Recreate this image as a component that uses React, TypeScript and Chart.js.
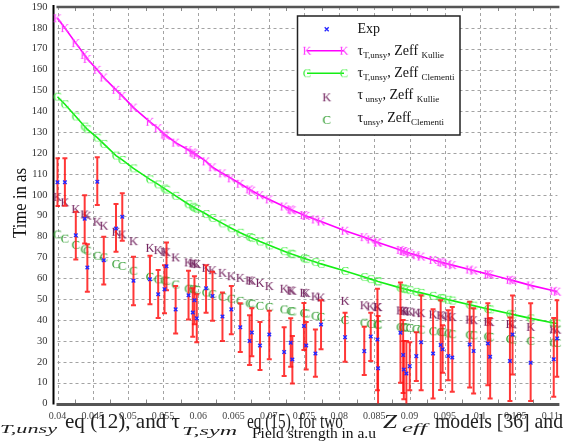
import React, { useEffect, useRef } from "react";
import { Chart, registerables } from "chart.js";
Chart.register(...registerables);

const FONT = '"Liberation Serif", "Times New Roman", serif';

// Field strength (a.u.) of each measurement
const fieldStrength = [
  0.0400, 0.04105, 0.0426, 0.04386, 0.04424, 0.04565, 0.04657, 0.04831, 0.0492, 0.05079,
  0.05313, 0.0543, 0.0552, 0.05548, 0.05678, 0.05861, 0.05921, 0.05945, 0.05978, 0.0611,
  0.06202, 0.06343, 0.06469, 0.06596, 0.06728, 0.0676, 0.06876, 0.07008, 0.07219, 0.07312,
  0.07336, 0.075, 0.07532, 0.07663, 0.07743, 0.08084, 0.08357, 0.08449, 0.08544, 0.08553,
  0.08871, 0.08909, 0.08919, 0.08955, 0.09003, 0.09096, 0.09165, 0.09334, 0.09442, 0.0947,
  0.0955, 0.09607, 0.09854, 0.0991, 0.10112, 0.10145, 0.10426, 0.10463, 0.1072, 0.11048,
  0.11096,
];

// Experimental time (as) with error range
const expTime = [
  106, 106, 80.6, 88.5, 65.2, 106.3, 68.6, 83.9, 89.5, 58.8,
  59.5, 52.4, 54.8, 65.8, 45.1, 51.9, 43.6, 49.5, 40.8, 55.2,
  51.5, 41.7, 45.1, 36.5, 30, 34, 27.8, 33.1, 24.7, 29.1,
  21.1, 37.1, 27.8, 24, 37.9, 31.8, 25.1, 32.1, 30.7, 16.9,
  33.9, 23.2, 16.3, 14.4, 17.9, 22.7, 29.4, 24, 28, 26,
  22.8, 22, 28.3, 25.2, 28.8, 22.4, 20.4, 33.1, 19.5, 21.2,
  31.2,
];
const expLow = [
  94.6, 94.8, 69, 76.7, 53.5, 95.1, 57, 72.7, 78, 47.1,
  47.6, 41, 43.2, 54.3, 33.6, 40.3, 32, 38, 29.3, 43.5,
  39.6, 30, 33.2, 24.7, 18.4, 22.7, 16, 21.2, 13.2, 17.6,
  9.6, 25.6, 16.3, 12.8, 26, 20, 13.6, 20.4, 6.4, -4,
  9.9, 5, 2, -1, 6.4, 10.8, 6.4, 2.4, 6.5, 14.7,
  11.2, 5.6, 7.7, 4.8, 8.8, 2.4, 1.2, 13.9, 1.2, 3.2,
  12.8,
];
const expHigh = [
  117.5, 117.5, 91.9, 99.8, 76.3, 118, 79.9, 95.6, 100.7, 70.3,
  70.8, 64, 66.3, 77.2, 56.3, 63.6, 55.2, 61, 52.3, 66.3,
  63.1, 53.2, 56.3, 48, 42.3, 45.6, 39.1, 44.4, 36.5, 40.8,
  32.4, 48.2, 39.1, 35.5, 49.5, 43.5, 36.8, 43.5, 55, 41.9,
  58, 40, 30, 30, 29.3, 34.2, 51.9, 45.2, 49.5, 37.5,
  44.7, 46.3, 48.7, 45.6, 48, 41, 41.2, 51.8, 48, 41,
  49.5,
];

// tau_T,unsy with Zeff Kullie (magenta line)
const tauTKullie = [
  184.6, 179.9, 172.7, 167, 165.1, 159.9, 156.2, 150.3, 147.4, 141.8,
  135, 131.9, 128.9, 128.3, 125, 121.5, 120.3, 119.8, 119.1, 116,
  113.2, 110.3, 107.9, 105.3, 102.6, 102, 99.8, 97.8, 94.4, 93,
  92.6, 90.3, 89.9, 88.2, 87.2, 82.8, 79.7, 78.6, 77.2, 77.1,
  73.6, 73.1, 73, 72.6, 72, 71.1, 70.4, 68.8, 67.8, 67.5,
  66.8, 66.3, 64.2, 63.7, 62, 61.8, 59.3, 59, 56.6, 54,
  53.6,
];
// tau_T,unsy with Zeff Clementi (green line)
const tauTClementi = [
  147, 143.4, 137.5, 132.7, 131.4, 127.4, 124.4, 118.8, 116.7, 112.7,
  107.4, 105, 103, 102.4, 99.5, 95.5, 94.3, 93.8, 93.2, 90.8,
  88.9, 86.3, 84, 81.8, 79.8, 79.3, 77.6, 75.8, 73, 71.8,
  71.5, 69.6, 69.2, 67.8, 66.9, 63.5, 60.6, 59.6, 58.6, 58.5,
  55.4, 55.1, 55, 54.7, 54.3, 53.5, 53, 51.6, 50.6, 50.4,
  49.7, 49.3, 47.3, 46.9, 45.3, 45.1, 43, 42.7, 40.8, 38.6,
  38.3,
];
// tau_unsy with Zeff Kullie (purple K)
const tauKullie = [
  99, 96.4, 93.2, 90.6, 90, 87.1, 85.2, 82.3, 81, 77.8,
  74.6, 73.5, 72.8, 72.5, 70, 67.6, 67.2, 67, 66.8, 65,
  63.9, 62.6, 61, 60.2, 59, 58.8, 57.8, 56.3, 55, 54.2,
  54, 53.1, 52.9, 51.3, 50.8, 49.2, 47.1, 46.5, 46.2, 46.2,
  44.6, 44.4, 44.4, 44.2, 44, 43.6, 43.3, 42.7, 42.3, 42.1,
  41.7, 41.4, 40.2, 39.9, 39.2, 39, 38.1, 37.9, 36.7, 35.6,
  35.4,
];
// tau_unsy with Zeff Clementi (green C)
const tauClementi = [
  81, 79, 76, 73.9, 73.2, 70.8, 70, 66.8, 65.9, 63.6,
  60.7, 59.5, 59, 58.7, 57, 55, 54.8, 54.6, 54.4, 53.2,
  52.4, 51.1, 50.2, 49.2, 48, 47.8, 46.8, 46.3, 45.1, 44.3,
  44.1, 43.3, 43.1, 42, 41.5, 40, 38.7, 38.1, 37.8, 37.8,
  36.6, 36.5, 36.5, 36.4, 36.2, 35.7, 35.4, 34.6, 34.3, 34.2,
  33.6, 33.2, 32.9, 32.7, 32.1, 31.9, 30.9, 30.6, 30, 29.2,
  29,
];

const xTickValues = [0.04, 0.045, 0.05, 0.055, 0.06, 0.065, 0.07, 0.075, 0.08, 0.085, 0.09, 0.095, 0.1, 0.105, 0.11];
const xTickLabels = ["0.04", "0.045", "0.05", "0.055", "0.06", "0.065", "0.07", "0.075", "0.08", "0.085", "0.09", "0.095", "0.1", "0.105", "0.11"];
const X_MIN = 0.04;
const X_MAX = 0.111;
const Y_MIN = 0;
const Y_MAX = 190;
const Y_STEP = 10;

const COL_EXP = "#2626ff";
const COL_BAR = "rgba(255,20,20,0.85)";
const COL_PINK = "#ff00ff";
const COL_PINK_MK = "#ff40ff";
const COL_GREEN = "#14ee14";
const COL_GREEN_MK = "#44ee44";
const COL_PURPLE = "#73245f";
const COL_DKGREEN = "#2a9a2a";

const MK = 18;
function makeLetter(ch: string, color: string, size: number): HTMLCanvasElement {
  const c = document.createElement("canvas");
  c.width = MK;
  c.height = MK;
  const g = c.getContext("2d")!;
  g.font = `${size}px ${FONT}`;
  g.fillStyle = color;
  g.textAlign = "center";
  g.textBaseline = "alphabetic";
  g.fillText(ch, MK / 2, MK / 2 + size * 0.33);
  return c;
}

function fitText(ctx: CanvasRenderingContext2D, text: string, x0: number, x1: number, baseline: number, font: string, color: string) {
  ctx.save();
  ctx.font = font;
  ctx.fillStyle = color;
  ctx.textAlign = "left";
  ctx.textBaseline = "alphabetic";
  const w = ctx.measureText(text).width;
  ctx.translate(x0, baseline);
  ctx.scale((x1 - x0) / w, 1);
  ctx.fillText(text, 0, 0);
  ctx.restore();
}

function flowText(ctx: CanvasRenderingContext2D, parts: [string, boolean][], x: number, baseline: number) {
  let cx = x;
  for (const [t, sub] of parts) {
    ctx.font = sub ? `9px ${FONT}` : `14px ${FONT}`;
    ctx.fillText(t, cx, sub ? baseline + 3 : baseline);
    cx += ctx.measureText(t).width;
  }
}

export default function App() {
  const ref = useRef<HTMLCanvasElement>(null);

  useEffect(() => {
    const kPink = makeLetter("K", COL_PINK_MK, 12.5);
    const cGreen = makeLetter("C", COL_GREEN_MK, 12.5);
    const kPurple = makeLetter("K", COL_PURPLE, 12.5);
    const cDk = makeLetter("C", COL_DKGREEN, 12.5);

    const pts = (ys: number[]) => fieldStrength.map((x, i) => ({ x, y: ys[i] }));

    const decor = {
      id: "decor",
      beforeDatasetsDraw(chart: any) {
        const { ctx, chartArea: a, scales } = chart;
        const xs = scales.x;
        const ys = scales.y;
        ctx.save();
        ctx.strokeStyle = "#a3a3a3";
        ctx.lineWidth = 1;
        ctx.setLineDash([3, 3]);
        for (const v of xTickValues) {
          const px = Math.round(xs.getPixelForValue(v)) + 0.5;
          ctx.beginPath();
          ctx.moveTo(px, a.top);
          ctx.lineTo(px, a.bottom);
          ctx.stroke();
        }
        for (const t of ys.ticks) {
          const py = Math.round(ys.getPixelForValue(t.value)) + 0.5;
          ctx.beginPath();
          ctx.moveTo(a.left, py);
          ctx.lineTo(a.right, py);
          ctx.stroke();
        }
        ctx.setLineDash([]);
        // minor ticks on top and bottom borders
        ctx.strokeStyle = "#888";
        for (let i = 0; i < xTickValues.length; i++) {
          const v = xTickValues[i] + 0.0025;
          if (v > X_MAX) break;
          const px = Math.round(xs.getPixelForValue(v)) + 0.5;
          ctx.beginPath();
          ctx.moveTo(px, a.top);
          ctx.lineTo(px, a.top + 4);
          ctx.moveTo(px, a.bottom);
          ctx.lineTo(px, a.bottom - 4);
          ctx.stroke();
        }
        // borders
        ctx.strokeStyle = "#555";
        ctx.lineWidth = 2.5;
        ctx.beginPath();
        ctx.moveTo(a.left - 1, a.top);
        ctx.lineTo(a.right + 2, a.top);
        ctx.stroke();
        ctx.lineWidth = 3;
        ctx.beginPath();
        ctx.moveTo(a.left - 1, a.bottom + 1);
        ctx.lineTo(a.right + 2, a.bottom + 1);
        ctx.stroke();
        ctx.strokeStyle = "#000";
        ctx.lineWidth = 2;
        ctx.beginPath();
        ctx.moveTo(a.left - 4, a.top - 2);
        ctx.lineTo(a.left - 4, a.bottom + 1);
        ctx.stroke();
        ctx.restore();
      },
      beforeDatasetDraw(chart: any, args: any) {
        if (args.index !== 0) return;
        const { ctx, chartArea: a, scales } = chart;
        const xs = scales.x;
        const ys = scales.y;
        ctx.save();
        ctx.beginPath();
        ctx.rect(a.left - 2, a.top, a.right - a.left + 4, a.bottom - a.top);
        ctx.clip();
        ctx.strokeStyle = COL_BAR;
        ctx.lineWidth = 2;
        for (let i = 0; i < fieldStrength.length; i++) {
          const px = xs.getPixelForValue(fieldStrength[i]);
          const lo = ys.getPixelForValue(expLow[i]);
          const hi = ys.getPixelForValue(expHigh[i]);
          ctx.beginPath();
          ctx.moveTo(px, lo);
          ctx.lineTo(px, hi);
          ctx.moveTo(px - 2.5, lo);
          ctx.lineTo(px + 2.5, lo);
          ctx.moveTo(px - 2.5, hi);
          ctx.lineTo(px + 2.5, hi);
          ctx.stroke();
        }
        ctx.restore();
      },
      afterDraw(chart: any) {
        const { ctx } = chart;
        ctx.save();
        // caption text from the page below the figure
        const dark = "#202020";
        fitText(ctx, "T,unsy", 0, 57, 433, `italic 13px ${FONT}`, dark);
        fitText(ctx, "eq (12), and τ", 65, 180, 428, `21px ${FONT}`, dark);
        fitText(ctx, "T,sym", 182, 237, 435, `italic 13px ${FONT}`, dark);
        fitText(ctx, "eq (15), for two", 247, 343, 428, `21px ${FONT}`, dark);
        fitText(ctx, "Z", 383, 397, 428, `italic 19px ${FONT}`, dark);
        fitText(ctx, "eff", 402, 427, 432, `italic 13px ${FONT}`, dark);
        fitText(ctx, "models [36] and", 435, 563, 428, `21px ${FONT}`, dark);
        // axis titles
        fitText(ctx, "Field strength in a.u", 252, 376, 438, `14px ${FONT}`, "#111");
        ctx.save();
        ctx.translate(26, 238);
        ctx.rotate(-Math.PI / 2);
        fitText(ctx, "Time in as", 0, 70, 0, `19px ${FONT}`, "#111");
        ctx.restore();

        // legend
        const L = 297.5, T = 16, R = 460, B = 135;
        ctx.fillStyle = "#fff";
        ctx.fillRect(L, T, R - L, B - T);
        ctx.strokeStyle = "#222";
        ctx.lineWidth = 1.5;
        ctx.strokeRect(L, T, R - L, B - T);
        const sx = 326.7;
        const h = MK / 2;
        // Exp marker
        ctx.strokeStyle = COL_EXP;
        ctx.lineWidth = 1.3;
        ctx.beginPath();
        ctx.moveTo(sx - 2, 27.3);
        ctx.lineTo(sx + 2, 31.3);
        ctx.moveTo(sx + 2, 27.3);
        ctx.lineTo(sx - 2, 31.3);
        ctx.stroke();
        // line samples
        ctx.lineWidth = 1.5;
        ctx.strokeStyle = COL_PINK;
        ctx.beginPath();
        ctx.moveTo(307, 50.7);
        ctx.lineTo(344, 50.7);
        ctx.stroke();
        ctx.drawImage(kPink, 307 - h, 50.7 - h);
        ctx.drawImage(kPink, 344 - h, 50.7 - h);
        ctx.strokeStyle = COL_GREEN;
        ctx.beginPath();
        ctx.moveTo(307, 73.3);
        ctx.lineTo(344, 73.3);
        ctx.stroke();
        ctx.drawImage(cGreen, 307 - h, 73.3 - h);
        ctx.drawImage(cGreen, 344 - h, 73.3 - h);
        ctx.drawImage(kPurple, sx - h, 97.3 - h);
        ctx.drawImage(cDk, sx - h, 120 - h);

        ctx.fillStyle = "#111";
        ctx.textAlign = "left";
        ctx.textBaseline = "alphabetic";
        const tx = 357.5;
        flowText(ctx, [["Exp", false]], tx, 33);
        flowText(ctx, [["τ", false], ["T,unsy", true], [", Zeff ", false], ["Kullie", true]], tx, 55);
        flowText(ctx, [["τ", false], ["T,unsy", true], [", Zeff ", false], ["Clementi", true]], tx, 76.5);
        flowText(ctx, [["τ", false], [" unsy", true], [", Zeff ", false], ["Kullie", true]], tx, 98.5);
        flowText(ctx, [["τ", false], ["unsy", true], [", Zeff", false], ["Clementi", true]], tx, 122);
        ctx.restore();
      },
    };

    const chart = new Chart(ref.current!, {
      type: "scatter",
      data: {
        datasets: [
          {
            label: "Exp",
            data: pts(expTime),
            showLine: false,
            pointStyle: "crossRot",
            pointRadius: 2.5,
            borderColor: COL_EXP,
            backgroundColor: COL_EXP,
            borderWidth: 1.4,
            clip: false,
          } as any,
          {
            label: "tauT Kullie",
            data: pts(tauTKullie),
            showLine: true,
            borderColor: COL_PINK,
            borderWidth: 1.6,
            pointStyle: kPink,
            pointRadius: 5,
            tension: 0,
            clip: false,
          },
          {
            label: "tauT Clementi",
            data: pts(tauTClementi),
            showLine: true,
            borderColor: COL_GREEN,
            borderWidth: 1.6,
            pointStyle: cGreen,
            pointRadius: 5,
            tension: 0,
            clip: false,
          },
          {
            label: "tau Kullie",
            data: pts(tauKullie),
            showLine: false,
            pointStyle: kPurple,
            pointRadius: 5,
            clip: false,
          },
          {
            label: "tau Clementi",
            data: pts(tauClementi),
            showLine: false,
            pointStyle: cDk,
            pointRadius: 5,
            clip: false,
          },
        ],
      },
      options: {
        responsive: false,
        animation: false,
        layout: { padding: { top: 7, right: 1, left: 0, bottom: 0 } },
        plugins: { legend: { display: false }, tooltip: { enabled: false } },
        scales: {
          x: {
            type: "linear",
            min: X_MIN,
            max: X_MAX,
            grid: { display: false, drawTicks: false },
            border: { display: false },
            afterBuildTicks: (s: any) => {
              s.ticks = xTickValues.map((v) => ({ value: v }));
            },
            afterFit: (s: any) => {
              s.height = 43.5;
              s.paddingLeft = 0;
              s.paddingRight = 0;
            },
            ticks: {
              autoSkip: false,
              maxRotation: 0,
              padding: 7,
              color: "#444",
              font: { family: FONT, size: 10 },
              callback: (v: any) => {
                const i = xTickValues.findIndex((t) => Math.abs(t - Number(v)) < 1e-9);
                return i >= 0 ? xTickLabels[i] : "";
              },
            },
          },
          y: {
            type: "linear",
            min: Y_MIN,
            max: Y_MAX,
            grid: { display: false, drawTicks: false },
            border: { display: false },
            afterFit: (s: any) => {
              s.width = 57.5;
              s.paddingTop = 0;
              s.paddingBottom = 0;
            },
            ticks: {
              stepSize: Y_STEP,
              autoSkip: false,
              padding: 10,
              color: "#333",
              font: { family: FONT, size: 10.5 },
            },
          },
        },
      },
      plugins: [decor],
    } as any);
    return () => chart.destroy();
  }, []);

  return (
    <div style={{ position: "fixed", left: 0, top: 0, width: 564, height: 447, background: "#fff" }}>
      <canvas ref={ref} width={564} height={447} style={{ display: "block" }} />
    </div>
  );
}
